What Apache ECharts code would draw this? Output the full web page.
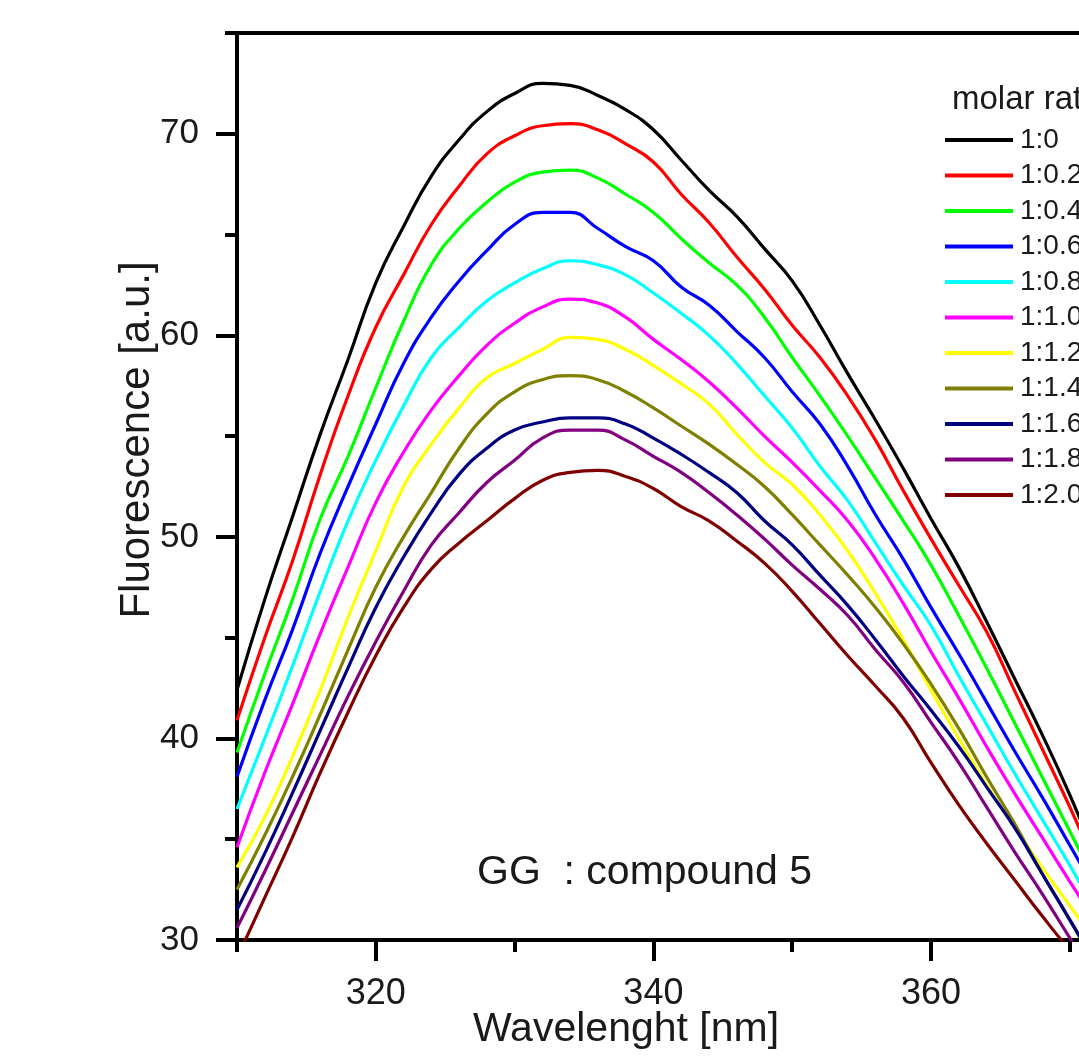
<!DOCTYPE html>
<html>
<head>
<meta charset="utf-8">
<script src="https://cdn.jsdelivr.net/npm/echarts@6/dist/echarts.min.js"></script>
<style>
  html, body { margin: 0; padding: 0; background: #fff; overflow: hidden; }
  #chart { width: 1300px; height: 1058px; }
</style>
</head>
<body>
<div id="chart"></div>
<script>
// wavelength grid (nm)
var wavelengths = [310, 312, 314, 316, 318, 320, 322, 324, 326, 328, 330, 332, 334, 336, 338, 340,
                   342, 344, 346, 348, 350, 352, 354, 356, 358, 360, 362, 364, 366, 368, 370, 372];

var ratios = ['1:0', '1:0.2', '1:0.4', '1:0.6', '1:0.8', '1:1.0', '1:1.2', '1:1.4', '1:1.6', '1:1.8', '1:2.0'];
var colors = ['#000000', '#ff0000', '#00ff00', '#0000ff', '#00ffff', '#ff00ff', '#ffff00', '#808000', '#000080', '#800080', '#800000'];

// fluorescence readings per molar ratio
var f1_0   = [42.4, 46.9, 51.0, 55.1, 58.8, 62.6, 65.4, 67.9, 69.7, 71.1, 72.0, 72.5, 72.4, 71.9, 71.2, 70.2, 68.7, 67.2, 65.9, 64.3, 62.7, 60.5, 58.1, 55.8, 53.4, 50.9, 48.5, 45.8, 43.0, 40.2, 37.2, 33.9];
var f1_02  = [40.9, 45.0, 48.8, 53.1, 57.0, 60.4, 63.0, 65.5, 67.4, 69.0, 69.9, 70.4, 70.5, 70.2, 69.5, 68.6, 67.0, 65.6, 63.9, 62.3, 60.5, 58.9, 57.0, 54.8, 52.3, 49.9, 47.6, 45.3, 42.4, 39.5, 36.6, 33.5];
var f1_04  = [39.3, 43.2, 46.9, 50.9, 54.0, 57.4, 60.7, 63.5, 65.3, 66.6, 67.6, 68.1, 68.2, 67.8, 67.0, 66.1, 64.8, 63.6, 62.5, 60.9, 58.9, 57.0, 55.0, 52.9, 50.8, 48.6, 46.1, 43.5, 40.8, 38.1, 35.4, 32.7];
var f1_06  = [38.1, 41.9, 45.4, 49.2, 52.5, 55.6, 58.6, 60.9, 62.7, 64.2, 65.5, 66.1, 66.1, 65.3, 64.4, 63.7, 62.4, 61.5, 60.2, 58.9, 57.2, 55.6, 53.5, 51.1, 48.9, 46.5, 44.2, 41.8, 39.4, 37.1, 34.7, 32.3];
var f1_08  = [36.5, 40.0, 43.6, 47.3, 50.8, 53.8, 56.5, 58.9, 60.4, 61.7, 62.6, 63.3, 63.7, 63.5, 63.0, 62.1, 61.1, 60.0, 58.6, 57.0, 55.4, 53.5, 51.8, 49.7, 47.6, 45.6, 43.1, 40.7, 38.3, 36.0, 33.7, 31.3];
var f1_10  = [34.6, 38.3, 41.7, 45.2, 48.5, 51.7, 54.2, 56.3, 58.0, 59.5, 60.6, 61.4, 61.8, 61.6, 60.9, 59.8, 58.8, 57.7, 56.4, 55.0, 53.7, 52.3, 50.8, 48.9, 46.7, 44.3, 42.0, 39.6, 37.3, 35.1, 32.9, 30.8];
var f1_12  = [33.6, 36.1, 39.1, 42.4, 46.0, 49.3, 52.5, 54.6, 56.4, 57.9, 58.6, 59.3, 59.9, 59.8, 59.3, 58.5, 57.6, 56.6, 55.1, 53.7, 52.6, 51.1, 49.3, 47.2, 44.9, 42.4, 40.0, 37.7, 35.6, 33.6, 31.7, 29.8];
var f1_14  = [32.5, 35.2, 38.1, 41.2, 44.4, 47.5, 50.0, 52.2, 54.4, 56.1, 57.2, 57.8, 58.0, 57.8, 57.2, 56.4, 55.5, 54.6, 53.6, 52.5, 51.1, 49.6, 48.1, 46.5, 44.7, 42.7, 40.5, 38.1, 35.8, 33.3, 31.0, 28.5];
var f1_16  = [31.5, 34.3, 37.3, 40.4, 43.5, 46.5, 49.0, 51.2, 53.1, 54.4, 55.3, 55.7, 55.9, 55.9, 55.6, 54.9, 54.1, 53.2, 52.2, 50.8, 49.6, 48.1, 46.6, 44.9, 43.1, 41.4, 39.6, 37.6, 35.6, 33.3, 31.0, 28.7];
var f1_18  = [30.6, 33.4, 36.3, 39.2, 42.1, 44.8, 47.3, 49.6, 51.2, 52.7, 53.8, 54.9, 55.3, 55.3, 54.8, 54.0, 53.2, 52.2, 51.1, 49.9, 48.6, 47.4, 46.1, 44.4, 42.8, 40.8, 38.8, 36.6, 34.4, 32.3, 30.1, 27.9];
var f1_20  = [29.1, 32.1, 35.1, 38.3, 41.3, 44.1, 46.5, 48.4, 49.7, 50.8, 51.9, 52.8, 53.2, 53.3, 53.0, 52.4, 51.5, 50.8, 49.8, 48.7, 47.3, 45.7, 44.1, 42.6, 41.0, 38.8, 36.7, 34.8, 33.0, 31.2, 29.5, 28.0];

var allData = [f1_0, f1_02, f1_04, f1_06, f1_08, f1_10, f1_12, f1_14, f1_16, f1_18, f1_20];

// tick positions
var xMajor = [320, 340, 360, 380];
var xMinor = [310, 330, 350, 370];
var yMajor = [30, 40, 50, 60, 70];
var yMinor = [35, 45, 55, 65, 75];

var FONT = '"Liberation Sans", Arial, sans-serif';
var TXT = '#1a1a1a';

var chart = echarts.init(document.getElementById('chart'));

var series = allData.map(function (vals, i) {
    return {
        name: ratios[i],
        type: 'line',
        xAxisIndex: 0,
        yAxisIndex: 0,
        symbol: 'none',
        smooth: 0.5,
        clip: true,
        lineStyle: { color: colors[i], width: 3.2 },
        itemStyle: { color: colors[i] },
        data: wavelengths.map(function (w, j) { return [w, vals[j]]; })
    };
});

var option = {
    backgroundColor: '#fff',
    animation: false,
    title: {
        text: 'molar ratio',
        left: 952,
        top: 83,
        padding: 0,
        textStyle: { fontFamily: FONT, fontSize: 33, fontWeight: 'normal', color: TXT }
    },
    legend: {
        orient: 'vertical',
        left: 945,
        top: 125,
        padding: 0,
        itemGap: 5.5,
        itemWidth: 68,
        itemHeight: 4,
        icon: 'rect',
        selectedMode: false,
        textStyle: { fontFamily: FONT, fontSize: 28, color: TXT, lineHeight: 30, padding: [0, 0, 0, 2] },
        data: ratios
    },
    grid: {
        left: 237,
        top: 33,
        width: 971.6,
        height: 907,
        containLabel: false,
        outerBoundsMode: 'none',
        show: true,
        borderColor: '#000',
        borderWidth: 4,
        backgroundColor: 'transparent'
    },
    xAxis: [{
        type: 'value',
        min: 310,
        max: 380,
        axisLine: { onZero: false, lineStyle: { color: '#000', width: 4 } },
        axisTick: { customValues: xMajor, length: 21, lineStyle: { color: '#000', width: 4 } },
        axisLabel: { customValues: xMajor, margin: 36, fontFamily: FONT, fontSize: 36, color: TXT },
        splitLine: { show: false }
    }, {
        type: 'value',
        min: 310,
        max: 380,
        position: 'bottom',
        axisLine: { show: false },
        axisTick: { customValues: xMinor, length: 12, lineStyle: { color: '#000', width: 4 } },
        axisLabel: { show: false },
        splitLine: { show: false }
    }],
    yAxis: [{
        type: 'value',
        min: 30,
        max: 75,
        axisLine: { show: true, onZero: false, lineStyle: { color: '#000', width: 4 } },
        axisTick: { show: true, customValues: yMajor, length: 21, lineStyle: { color: '#000', width: 4 } },
        axisLabel: { customValues: yMajor, margin: 38, fontFamily: FONT, fontSize: 35, color: TXT },
        splitLine: { show: false }
    }, {
        type: 'value',
        min: 30,
        max: 75,
        position: 'left',
        axisLine: { show: false },
        axisTick: { show: true, customValues: yMinor, length: 12, lineStyle: { color: '#000', width: 4 } },
        axisLabel: { show: false },
        splitLine: { show: false }
    }],
    graphic: [{
        type: 'text',
        x: 137,
        y: 440,
        rotation: Math.PI / 2,
        style: { text: 'Fluorescence [a.u.]', font: '42px ' + FONT, fill: TXT, textAlign: 'center', textVerticalAlign: 'middle' }
    }, {
        type: 'text',
        x: 626,
        y: 1030,
        style: { text: 'Wavelenght [nm]', font: '41px ' + FONT, fill: TXT, textAlign: 'center', textVerticalAlign: 'middle' }
    }, {
        type: 'text',
        x: 477,
        y: 873,
        style: { text: 'GG  : compound 5', font: '41px ' + FONT, fill: TXT, textAlign: 'left', textVerticalAlign: 'middle' }
    }],
    series: series
};

option && chart.setOption(option);
</script>
</body>
</html>
